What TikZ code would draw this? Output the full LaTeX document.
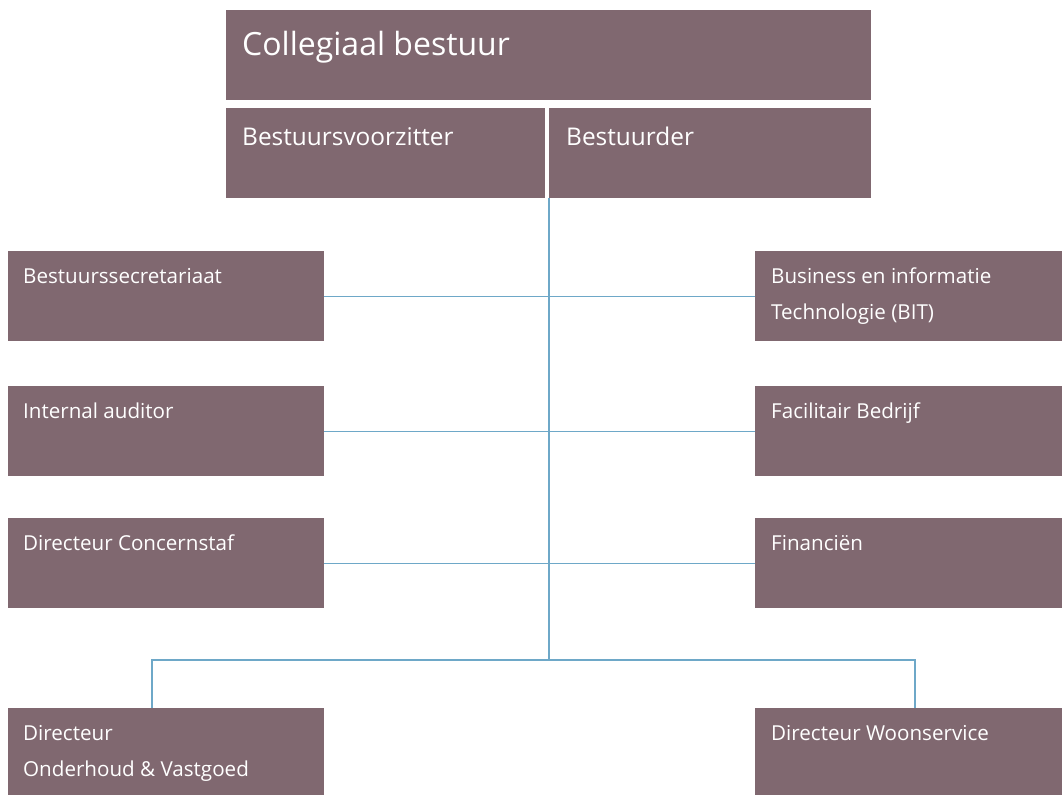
\documentclass[tikz,border=0pt]{standalone}
\usepackage{fontspec}
\setmainfont{Open Sans}
\definecolor{boxfill}{RGB}{128,104,112}
\definecolor{linkc}{RGB}{110,168,200}
\begin{document}
\begin{tikzpicture}[x=1pt,y=-1pt,
  box/.style={fill=boxfill,draw=none,anchor=north west,inner sep=0pt},
  lbl/.style={text=white,anchor=base west,inner sep=0pt,align=left,font=\fontsize{20.6}{36}\selectfont},
  link/.style={draw=linkc,line width=1.1pt}]
\useasboundingbox (0,0) rectangle (1062,795);
% top boxes
\node[box,minimum width=645pt,minimum height=90pt] (cb) at (226,10) {};
\node[box,minimum width=319pt,minimum height=90pt] (bv) at (226,108) {};
\node[box,minimum width=322pt,minimum height=90pt] (bd) at (549,108) {};
% left boxes
\node[box,minimum width=316pt,minimum height=90pt] (l1) at (8,251) {};
\node[box,minimum width=316pt,minimum height=90pt] (l2) at (8,386) {};
\node[box,minimum width=316pt,minimum height=90pt] (l3) at (8,518) {};
\node[box,minimum width=316pt,minimum height=87pt] (l4) at (8,708) {};
% right boxes
\node[box,minimum width=307pt,minimum height=90pt] (r1) at (755,251) {};
\node[box,minimum width=307pt,minimum height=90pt] (r2) at (755,386) {};
\node[box,minimum width=307pt,minimum height=90pt] (r3) at (755,518) {};
\node[box,minimum width=307pt,minimum height=87pt] (r4) at (755,708) {};
% labels
\node[lbl,font=\fontsize{32}{36}\selectfont] (tcb) at (242,55) {Collegiaal bestuur};
\node[lbl,font=\fontsize{24.4}{28}\selectfont] (tbv) at (242,145) {Bestuursvoorzitter};
\node[lbl,font=\fontsize{24.4}{28}\selectfont] (tbd) at (566,145) {Bestuurder};
\node[lbl] (tl1) at (23,283) {Bestuurssecretariaat};
\node[lbl] (tl2) at (23,418) {Internal auditor};
\node[lbl] (tl3) at (23,550) {Directeur Concernstaf};
\node[lbl] (tl4) at (23,776) {Directeur\\Onderhoud \& Vastgoed};
\node[lbl] (tr1) at (771,319) {Business en informatie\\Technologie (BIT)};
\node[lbl] (tr2) at (771,418) {Facilitair Bedrijf};
\node[lbl] (tr3) at (771,550) {Financiën};
\node[lbl] (tr4) at (771,740) {Directeur Woonservice};
% connectors
\coordinate (bend) at (549,660);
\draw[link] (bd.south west) -- (bend);
\draw[link] (l1.east) -- (r1.west);
\draw[link] (l2.east) -- (r2.west);
\draw[link] (l3.east) -- (r3.west);
\draw[link] (l4.north west -| 152,0) |- (bend) -| (r4.north west -| 915,0);
\end{tikzpicture}
\end{document}
